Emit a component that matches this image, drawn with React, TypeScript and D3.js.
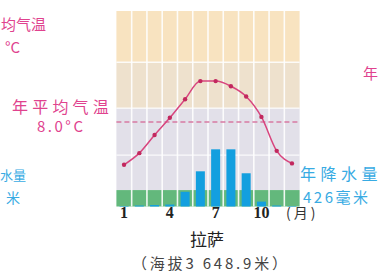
import React from "react";
import * as d3 from "d3";

// Lhasa climate chart
const months = [1, 2, 3, 4, 5, 6, 7, 8, 9, 10, 11, 12];
const monthTicks = [1, 4, 7, 10];
const temperature = [-1.2, 1.3, 5.2, 8.9, 12.9, 16.8, 16.8, 15.7, 13.5, 9.1, 1.8, -0.9];
const precipitation = [1, 2, 3, 4, 30, 72, 117, 117, 68, 10, 2, 1];
const meanTemp = 8.0;
const annualPrecip = 426;

const W = 385;
const H = 276;
const plot = { left: 116.4, right: 299.6, top: 11, bottom: 206.5 };

const CJK = "'Noto Sans CJK SC', 'Noto Sans', sans-serif";
const PINK = "#e0428e";
const BLUE = "#38abe3";

export default function App() {
  const x = d3
    .scaleBand<number>()
    .domain(months)
    .range([plot.left, plot.right])
    .padding(0);
  const cx = (m: number) => (x(m) ?? 0) + x.bandwidth() / 2;

  // temperature axis: ~4.65px per degree
  const yT = d3.scaleLinear().domain([-10, 30.8]).range([205.7, 16]);
  const yP = d3.scaleLinear().domain([0, 400]).range([plot.bottom, plot.top]);

  const ph = plot.bottom - plot.top;
  // background bands (fractions of plot height, top-down)
  const bands = [
    { from: 0, to: 0.262, fill: "#f8e3c0" },
    { from: 0.262, to: 0.497, fill: "#eee1cd" },
    { from: 0.497, to: 0.916, fill: "#e2e0e9" },
    { from: 0.916, to: 1, fill: "#63b87c" },
  ];
  const hLines = [0.262, 0.497, 0.737];

  const line = d3
    .line<number>()
    .x((_, i) => cx(months[i]))
    .y((d) => yT(d))
    .curve(d3.curveMonotoneX);

  const barW = 9;

  return (
    <svg
      width={W}
      height={H}
      viewBox={`0 0 ${W} ${H}`}
      style={{ position: "absolute", left: 0, top: 0, background: "#fff" }}
    >
      {bands.map((b, i) => (
        <rect
          key={i}
          x={plot.left}
          y={plot.top + b.from * ph}
          width={plot.right - plot.left}
          height={(b.to - b.from) * ph}
          fill={b.fill}
        />
      ))}
      {hLines.map((f, i) => (
        <line
          key={i}
          x1={plot.left}
          x2={plot.right}
          y1={plot.top + f * ph}
          y2={plot.top + f * ph}
          stroke="#fff"
          strokeWidth={1.4}
          opacity={0.85}
        />
      ))}
      {months.slice(1).map((m) => (
        <line
          key={m}
          x1={x(m)}
          x2={x(m)}
          y1={plot.top}
          y2={plot.bottom}
          stroke="#fff"
          strokeWidth={1.6}
          opacity={0.9}
        />
      ))}

      {/* precipitation bars */}
      {precipitation.map((p, i) => (
        <rect
          key={i}
          x={cx(months[i]) - barW / 2}
          y={yP(p)}
          width={barW}
          height={plot.bottom - yP(p)}
          fill="#139fdf"
        />
      ))}

      {/* mean temperature dashed line */}
      <line
        x1={plot.left}
        x2={plot.right}
        y1={yT(meanTemp)}
        y2={yT(meanTemp)}
        stroke="#d87aa2"
        strokeWidth={1.6}
        strokeDasharray="5,3"
      />

      {/* temperature curve */}
      <path d={line(temperature) ?? ""} fill="none" stroke="#d8457e" strokeWidth={1.5} />
      {temperature.map((t, i) => (
        <circle key={i} cx={cx(months[i])} cy={yT(t)} r={2.2} fill="#c2285e" />
      ))}

      {/* month ticks */}
      {monthTicks.map((m) => (
        <text
          key={m}
          x={cx(m)}
          y={218}
          textAnchor="middle"
          fontFamily="'Liberation Serif', serif"
          fontWeight="bold"
          fontSize={16}
          fill="#222"
        >
          {m}
        </text>
      ))}
      <text x={286} y={218} fontFamily={CJK} fontSize={14} letterSpacing={3} fill="#333">
        (月)
      </text>

      <text x={207} y={246} textAnchor="middle" fontFamily={CJK} fontSize={17} fill="#222">
        拉萨
      </text>
      <text x={132} y={269} fontFamily={CJK} fontSize={15} letterSpacing={2.8} fill="#444">
        （海拔3 648.9米）
      </text>

      {/* left-side labels (neighbouring chart, clipped by the frame) */}
      <text x={1} y={30} fontFamily={CJK} fontSize={15} fill={PINK}>
        均气温
      </text>
      <text x={5} y={53} fontFamily={CJK} fontSize={15} fill={PINK}>
        °C
      </text>
      <text x={12} y={113} fontFamily={CJK} fontSize={16} letterSpacing={4.2} fill={PINK}>
        年平均气温
      </text>
      <text x={37} y={132} fontFamily={CJK} fontSize={15} letterSpacing={2.5} fill={PINK}>
        {meanTemp.toFixed(1)}°C
      </text>
      <text x={0} y={180} fontFamily={CJK} fontSize={13} fill={BLUE}>
        水量
      </text>
      <text x={6} y={203} fontFamily={CJK} fontSize={14} fill={BLUE}>
        米
      </text>

      {/* right-side labels */}
      <text x={300} y={180} fontFamily={CJK} fontSize={16} letterSpacing={4.5} fill={BLUE}>
        年降水量
      </text>
      <text x={303} y={203} fontFamily={CJK} fontSize={15} letterSpacing={2.5} fill={BLUE}>
        {annualPrecip}毫米
      </text>
      <text x={363} y={79} fontFamily={CJK} fontSize={15} fill={PINK}>
        年
      </text>
    </svg>
  );
}
